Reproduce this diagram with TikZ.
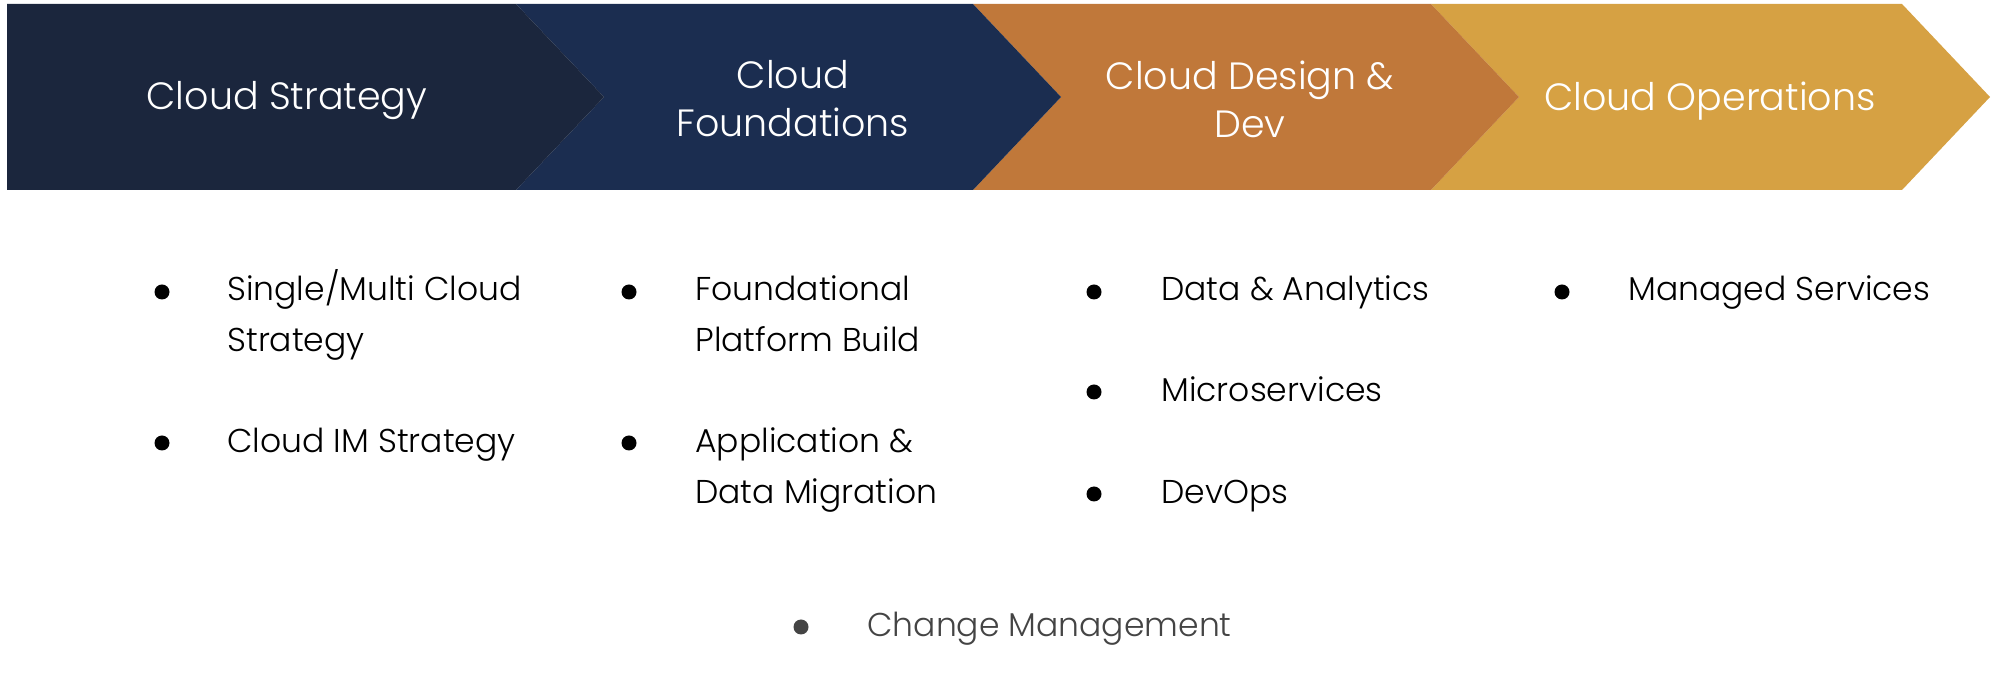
\documentclass[tikz,border=0pt]{standalone}
\usepackage{fontspec}
\setmainfont{Poppins}[UprightFont=* Light]
\usetikzlibrary{positioning}
\definecolor{strategy}{HTML}{1B263D}
\definecolor{foundation}{HTML}{1B2D50}
\definecolor{design}{HTML}{C0783A}
\definecolor{operation}{HTML}{D6A143}
\definecolor{changegray}{HTML}{444444}
\tikzset{
	phase/.style={
		text=white, align=center, inner sep=0pt,
		font=\fontsize{19}{24}\selectfont
	},
	item/.style={
		anchor=base west, align=left, inner sep=0pt, text=black,
		font=\fontsize{16.5}{25.5}\selectfont
	},
	dot/.style={
		circle, fill=black, inner sep=0pt, minimum size=7.5pt
	},
}

\begin{document}
\begin{tikzpicture}[x=0.5pt,y=-0.5pt]
	\useasboundingbox (0,0) rectangle (1999,694);
	
	% chevrons, last one first so each tip lies on the next
	\fill[operation]  (1431,4) -- (1902,4) -- (1990,97) -- (1902,190) -- (1431,190) -- (1519,97) -- cycle;
	\fill[design]     (973,4) -- (1431,4) -- (1519,97) -- (1431,190) -- (973,190) -- (1061,97) -- cycle;
	\fill[foundation] (516,4) -- (973,4) -- (1061,97) -- (973,190) -- (516,190) -- (604,97) -- cycle;
	\fill[strategy]   (7,4) -- (516,4) -- (604,97) -- (516,190) -- (7,190) -- cycle;
	
	\node[phase] (strat) at (287,101) {Cloud Strategy};
	\node[phase] (found) at (793,99)  {Cloud\\Foundations};
	\node[phase] (desig) at (1250,99) {Cloud Design \&\\Dev};
	\node[phase] (oper)  at (1710,101) {Cloud Operations};
	
	% first column (two-line items sit on their last baseline)
	\node[dot] (s1) at (162,292) {};
	\node[item] (strat1) at (227,352) {Single/Multi Cloud\\Strategy};
	\node[dot] (s2) at (162,443) {};
	\node[item] (strat2) at (227,453) {Cloud IM Strategy};
	
	% second column
	\node[dot] (f1) at (629,292) {};
	\node[item] (found1) at (695,352) {Foundational\\Platform Build};
	\node[dot] (f2) at (629,443) {};
	\node[item] (found2) at (695,504) {Application \&\\Data Migration};
	
	% third column
	\node[dot] (d1) at (1094,292) {};
	\node[item] (desig1) at (1161,301) {Data \& Analytics};
	\node[dot] (d2) at (1094,392) {};
	\node[item] (desig2) at (1161,402) {Microservices};
	\node[dot] (d3) at (1094,494) {};
	\node[item] (desig3) at (1161,504) {DevOps};
	
	% fourth column
	\node[dot] (o1) at (1562,292) {};
	\node[item] (oper1) at (1628,301) {Managed Services};
	
	% across all phases
	\node[dot, fill=changegray] (c1) at (801,627) {};
	\node[item, text=changegray] (change) at (867,637) {Change Management};
\end{tikzpicture}
\end{document}
